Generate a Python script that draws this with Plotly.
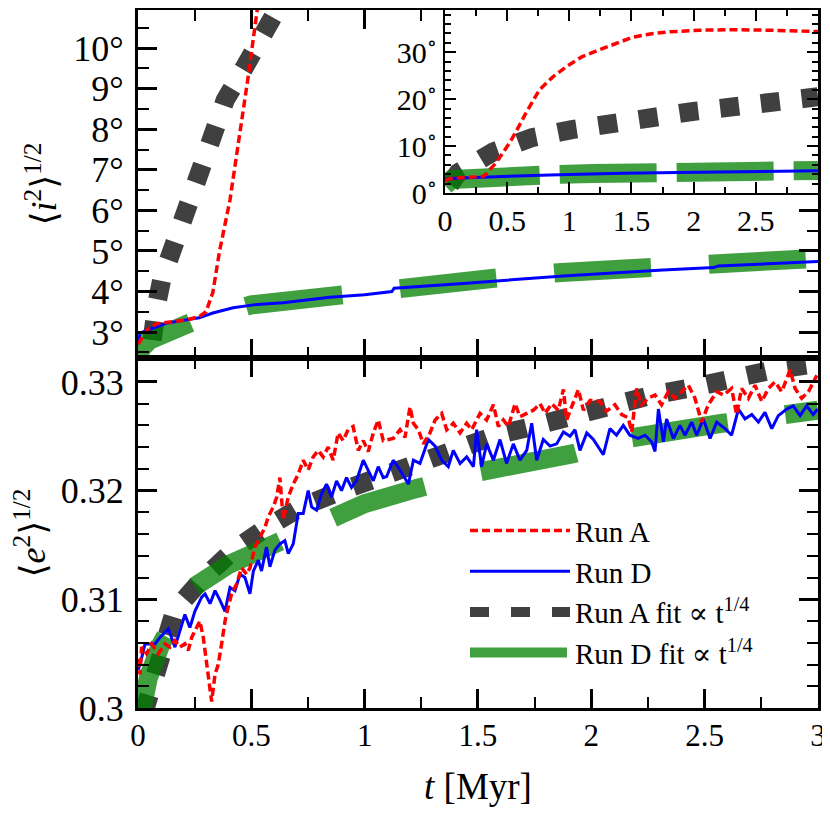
import plotly.graph_objects as go

# ---- inclination <i^2>^1/2 in degrees (top panel + inset) ----
t_inc_a = [0, 0.04, 0.08, 0.15, 0.215, 0.27, 0.30, 0.33, 0.36, 0.406, 0.45, 0.486, 0.524,
           0.58, 0.65, 0.76, 0.87, 0.98, 1.1, 1.25, 1.38, 1.51, 1.65, 1.78, 2.05, 2.3,
           2.59, 2.8, 3.0]
inc_a = [2.7, 3.05, 3.2, 3.25, 3.3, 3.38, 3.5, 3.97, 5.0, 6.26, 7.9, 9.29, 10.86,
         13.5, 17.0, 22.0, 24.8, 27.0, 29.0, 30.6, 32.0, 33.2, 33.9, 34.3, 34.7, 34.8,
         34.7, 34.6, 34.4]

t_inc_d = [0, 0.01, 0.127, 0.27, 0.33, 0.42, 0.51, 0.64, 0.847, 1.0, 1.12, 1.13, 1.435,
           1.876, 2.316, 2.54, 2.56, 3.0]
inc_d = [2.75, 2.98, 3.22, 3.35, 3.47, 3.6, 3.67, 3.72, 3.86, 3.92, 4.0, 4.08, 4.2,
         4.38, 4.53, 4.59, 4.63, 4.74]

t_inc_fit_a = [0.04, 0.06, 0.083, 0.105, 0.14, 0.19, 0.245, 0.31, 0.385, 0.47, 0.56, 0.70,
               1.02, 1.34, 1.68, 2.0, 2.33, 2.65, 3.0]
inc_fit_a = [1.8, 3.0, 3.7, 4.3, 4.85, 5.84, 6.8, 7.78, 8.72, 9.53, 10.44, 11.8,
             13.5, 15.0, 16.3, 17.4, 18.4, 19.3, 20.5]

t_inc_fit_d = [0, 0.01, 0.05, 0.1, 0.24, 0.5, 0.92, 1.19, 1.61, 1.87, 2.30, 2.56, 3.0]
inc_fit_d = [1.6, 2.56, 2.8, 2.95, 3.25, 3.67, 3.97, 4.14, 4.35, 4.47, 4.61, 4.71, 4.82]

# ---- eccentricity <e^2>^1/2 (bottom panel) ----
t_ecc_a = [0.0, 0.009, 0.016, 0.038, 0.06, 0.09, 0.119, 0.141, 0.163, 0.185,
           0.207, 0.222, 0.237, 0.259, 0.273, 0.288, 0.303, 0.318, 0.325, 0.34,
           0.354, 0.369, 0.384, 0.398, 0.413, 0.435, 0.457, 0.479, 0.494, 0.516,
           0.538, 0.56, 0.575, 0.597, 0.612, 0.626, 0.641, 0.663, 0.685, 0.707,
           0.729, 0.751, 0.773, 0.795, 0.817, 0.839, 0.861, 0.883, 0.905, 0.927,
           0.949, 0.972, 0.994, 1.016, 1.038, 1.06, 1.082,
           1.126, 1.156, 1.178, 1.2, 1.215, 1.237, 1.259, 1.288, 1.311, 1.34,
           1.362, 1.391, 1.421, 1.45, 1.472, 1.509, 1.538, 1.568, 1.59, 1.612,
           1.634, 1.664, 1.685, 1.715, 1.744, 1.774, 1.796, 1.825, 1.854, 1.877,
           1.891, 1.913, 1.943, 1.965, 1.995,
           2.038, 2.067, 2.104, 2.134, 2.163, 2.178, 2.2, 2.222, 2.251, 2.281,
           2.31, 2.34, 2.369, 2.399, 2.428, 2.457, 2.487, 2.516, 2.553, 2.583,
           2.619, 2.641, 2.663, 2.693, 2.722, 2.752, 2.781, 2.81, 2.84, 2.877,
           2.899, 2.928, 2.958, 2.98, 2.995]
ecc_a = [0.3045, 0.3031, 0.3056, 0.3050, 0.3059, 0.3050, 0.3059, 0.3056, 0.3062, 0.3056,
         0.3059, 0.3053, 0.3065, 0.3074, 0.3080, 0.3065, 0.3040, 0.3016, 0.3006, 0.3031,
         0.3040, 0.3059, 0.3080, 0.3093, 0.3105, 0.3114, 0.3129, 0.3123, 0.3129, 0.3148,
         0.3157, 0.3166, 0.3176, 0.3185, 0.3194, 0.3212, 0.3173, 0.3194, 0.3206, 0.3215,
         0.3228, 0.3219, 0.3231, 0.3237, 0.3231, 0.3240, 0.3228, 0.3253, 0.3246, 0.3256,
         0.3259, 0.3237, 0.3246, 0.3236, 0.3253, 0.3265, 0.3246,
         0.3248, 0.3256, 0.3249, 0.3277, 0.3262, 0.3256, 0.3243, 0.3253, 0.3265, 0.3271,
         0.3256, 0.3262, 0.3253, 0.3262, 0.3256, 0.3271, 0.3265, 0.3279, 0.3259, 0.3265,
         0.3259, 0.3280, 0.3268, 0.3271, 0.3274, 0.3280, 0.3271, 0.3280, 0.3274, 0.3293,
         0.3265, 0.3277, 0.3293, 0.3274, 0.3283,
         0.3282, 0.3273, 0.3279, 0.3270, 0.3267, 0.3254, 0.3294, 0.3279, 0.3285, 0.3288,
         0.3279, 0.3291, 0.3285, 0.3291, 0.3297, 0.3285, 0.3263, 0.3279, 0.3291, 0.3288,
         0.3294, 0.3270, 0.3294, 0.3285, 0.3297, 0.3282, 0.3294, 0.3300, 0.3291, 0.3311,
         0.3294, 0.3285, 0.3291, 0.3300, 0.3306]

t_ecc_d = [0.0, 0.009, 0.031, 0.075, 0.097, 0.134, 0.163, 0.193, 0.207, 0.229,
           0.251, 0.281, 0.296, 0.318, 0.34, 0.362, 0.384, 0.406, 0.428, 0.45,
           0.472, 0.494, 0.509, 0.531, 0.545, 0.567, 0.582, 0.604, 0.626, 0.648,
           0.663, 0.685, 0.707, 0.729, 0.751, 0.766, 0.788, 0.81, 0.832, 0.854,
           0.876, 0.898, 0.92, 0.942, 0.964, 0.994, 1.016, 1.038, 1.06, 1.082,
           1.097, 1.126, 1.156, 1.193, 1.215, 1.244, 1.281, 1.311, 1.34, 1.369,
           1.391, 1.421, 1.45, 1.48, 1.494, 1.516, 1.538, 1.568, 1.597, 1.626,
           1.656, 1.685, 1.715, 1.737, 1.759, 1.788, 1.818, 1.847, 1.877, 1.906,
           1.928, 1.95, 1.98, 2.009,
           2.053, 2.082, 2.111, 2.141, 2.17, 2.207, 2.237, 2.266, 2.281, 2.296,
           2.318, 2.332, 2.362, 2.391, 2.413, 2.443, 2.465, 2.494, 2.524, 2.553,
           2.59, 2.619, 2.649, 2.678, 2.708, 2.737, 2.766, 2.796, 2.825, 2.862,
           2.891, 2.921, 2.95, 2.979, 2.998]
ecc_d = [0.3035, 0.3040, 0.3059, 0.3059, 0.3065, 0.3073, 0.3056, 0.3078, 0.3086, 0.3074,
         0.3089, 0.3102, 0.3105, 0.3096, 0.3108, 0.3099, 0.3089, 0.3111, 0.3108, 0.3123,
         0.3120, 0.3105, 0.3126, 0.3136, 0.3126, 0.3148, 0.3130, 0.3145, 0.3151, 0.3154,
         0.3142, 0.3151, 0.3179, 0.3179, 0.3200, 0.3185, 0.3182, 0.3197, 0.3206, 0.3194,
         0.3209, 0.3200, 0.3212, 0.3203, 0.3209, 0.3228, 0.3219, 0.3209, 0.3222, 0.3212,
         0.3213, 0.3228, 0.3219, 0.3206, 0.3228, 0.3225, 0.3247, 0.3241, 0.3228, 0.3222,
         0.3237, 0.3225, 0.3231, 0.3222, 0.3256, 0.3222, 0.3243, 0.3228, 0.3247, 0.3225,
         0.3243, 0.3228, 0.3237, 0.3262, 0.3228, 0.3247, 0.3241, 0.3243, 0.3254, 0.3250,
         0.3256, 0.3237, 0.3253, 0.3247,
         0.3233, 0.3257, 0.3251, 0.3260, 0.3251, 0.3248, 0.3251, 0.3245, 0.3236, 0.3275,
         0.3245, 0.3266, 0.3248, 0.3260, 0.3251, 0.3263, 0.3251, 0.3266, 0.3248, 0.3263,
         0.3257, 0.3251, 0.3275, 0.3266, 0.3270, 0.3263, 0.3272, 0.3257, 0.3269, 0.3275,
         0.3278, 0.3269, 0.3278, 0.3270, 0.3275]

t_ecc_fit_a = [0.025, 0.06, 0.1, 0.163, 0.281, 0.42, 0.567, 0.72, 0.9, 1.07, 1.23,
               1.41, 1.58, 1.76, 1.94, 2.1, 2.27, 2.45, 2.63, 2.8, 3.0]
ecc_fit_a = [0.2995, 0.3020, 0.3058, 0.3090, 0.3118, 0.3145, 0.3166, 0.3185, 0.3200, 0.3213, 0.3228,
             0.3240, 0.3251, 0.3260, 0.3271, 0.3280, 0.3288, 0.3295, 0.3304, 0.3311, 0.3317]

t_ecc_fit_d = [0.0, 0.02, 0.046, 0.1, 0.237, 0.4, 0.6, 0.85, 1.0, 1.23, 1.5, 1.92,
               2.16, 2.58, 2.86, 3.0]
ecc_fit_d = [0.2981, 0.3004, 0.3028, 0.3058, 0.3110, 0.3132, 0.3151, 0.3175, 0.3188, 0.3202,
             0.3217, 0.3234, 0.3248, 0.3262, 0.3270, 0.3274]

inc_ticks = [3, 4, 5, 6, 7, 8, 9, 10]
inset_inc_ticks = [0, 10, 20, 30]
ecc_ticks = [0.30, 0.31, 0.32, 0.33]
t_ticks = [0, 0.5, 1, 1.5, 2, 2.5, 3]

FONT = "Liberation Serif, Times New Roman, DejaVu Serif, serif"
RED = "#ff0000"
BLUE = "#0000ff"
GRAY = "rgba(0,0,0,0.75)"
GREEN = "rgba(0,128,0,0.75)"

names = {
    "a": "Run A",
    "d": "Run D",
    "fa": "Run A fit \u221d t<sup>1/4</sup>",
    "fd": "Run D fit \u221d t<sup>1/4</sup>",
}

fig = go.Figure()


def add_panel(xa, ya, ta, a, td, d, tfa, fa, tfd, fd, legend, green_dash):
    fig.add_trace(go.Scatter(x=tfa, y=fa, mode="lines", name=names["fa"], legendrank=3,
                             showlegend=legend, xaxis=xa, yaxis=ya,
                             line=dict(color=GRAY, width=19, dash="19px,22px")))
    fig.add_trace(go.Scatter(x=tfd, y=fd, mode="lines", name=names["fd"], legendrank=4,
                             showlegend=legend, xaxis=xa, yaxis=ya,
                             line=dict(color=GREEN, width=19, dash=green_dash)))
    fig.add_trace(go.Scatter(x=td, y=d, mode="lines", name=names["d"], legendrank=2,
                             showlegend=legend, xaxis=xa, yaxis=ya,
                             line=dict(color=BLUE, width=3)))
    fig.add_trace(go.Scatter(x=ta, y=a, mode="lines", name=names["a"], legendrank=1,
                             showlegend=legend, xaxis=xa, yaxis=ya,
                             line=dict(color=RED, width=3.5, dash="8px,4px")))


add_panel("x", "y", t_inc_a, inc_a, t_inc_d, inc_d, t_inc_fit_a, inc_fit_a,
          t_inc_fit_d, inc_fit_d, False, "97px,58px")
add_panel("x2", "y2", t_ecc_a, ecc_a, t_ecc_d, ecc_d, t_ecc_fit_a, ecc_fit_a,
          t_ecc_fit_d, ecc_fit_d, True, "97px,58px")
add_panel("x3", "y3", t_inc_a, inc_a, t_inc_d, inc_d, t_inc_fit_a, inc_fit_a,
          t_inc_fit_d, inc_fit_d, False, "97px,20px")

frame = dict(showgrid=False, zeroline=False, showline=True, linecolor="black", linewidth=3,
             mirror="allticks", ticks="inside", tickcolor="black", tickwidth=3, ticklen=19,
             automargin=False,
             minor=dict(ticks="inside", ticklen=11, tickwidth=2, tickcolor="black"))
inset_frame = dict(showgrid=False, zeroline=False, showline=True, linecolor="black", linewidth=2,
                   mirror="allticks", ticks="inside", tickcolor="black", tickwidth=2, ticklen=11,
                   automargin=False,
                   minor=dict(ticks="inside", ticklen=6, tickwidth=1.5, tickcolor="black"))


def tf(size):
    return dict(family=FONT, size=size, color="black")


# the page has an 8px body margin, domains are set to compensate
X_DOM = [0.1566, 0.9759]
fig.update_layout(
    width=830, height=830,
    margin=dict(l=0, r=0, t=0, b=0),
    paper_bgcolor="white", plot_bgcolor="white",
    font=dict(family=FONT, color="black"),
    xaxis=dict(frame, domain=X_DOM, anchor="y", range=[0, 3],
               tickvals=t_ticks, showticklabels=False, minor_dtick=0.25),
    yaxis=dict(frame, domain=[0.5783, 0.9976], anchor="x", range=[2.36, 10.94],
               tickvals=inc_ticks, ticktext=[f"{v}\u00b0" for v in inc_ticks],
               minor_dtick=0.5, tickfont=tf(36), ticklabelstandoff=4,
               title=dict(text="\u27e8<i>i</i><sup>2</sup>\u27e9<sup>1/2</sup>",
                          font=tf(36), standoff=6)),
    xaxis2=dict(frame, domain=X_DOM, anchor="y2", range=[0, 3],
                tickvals=t_ticks, ticktext=[f"{v:g}" for v in t_ticks], minor_dtick=0.25,
                tickfont=tf(31), ticklabelstandoff=-2,
                title=dict(text="<i>t</i> [Myr]", font=tf(37), standoff=21)),
    yaxis2=dict(frame, domain=[0.1566, 0.5783], anchor="x2", range=[0.3, 0.3322],
                tickvals=ecc_ticks, ticktext=[f"{v:g}" for v in ecc_ticks],
                minor_dtick=0.002, tickfont=tf(36), ticklabelstandoff=4,
                title=dict(text="\u27e8<i>e</i><sup>2</sup>\u27e9<sup>1/2</sup>",
                           font=tf(36), standoff=10)),
    xaxis3=dict(inset_frame, domain=[0.5265, 0.9759], anchor="y3", range=[0, 3],
                tickvals=t_ticks[:-1], ticktext=[f"{v:g}" for v in t_ticks[:-1]],
                minor_dtick=0.25, tickfont=tf(30), ticklabelstandoff=0),
    yaxis3=dict(inset_frame, domain=[0.7771, 0.9976], anchor="x3", range=[0, 39],
                tickvals=inset_inc_ticks,
                ticktext=[f"{v}<sup>\u2218</sup>" for v in inset_inc_ticks],
                minor_dtick=2, tickfont=tf(30)),
    legend=dict(x=0.5506, y=0.401, xanchor="left", yanchor="top",
                font=tf(29), bgcolor="rgba(0,0,0,0)",
                itemwidth=100, tracegroupgap=0),
)

fig.write_html("out.html")
